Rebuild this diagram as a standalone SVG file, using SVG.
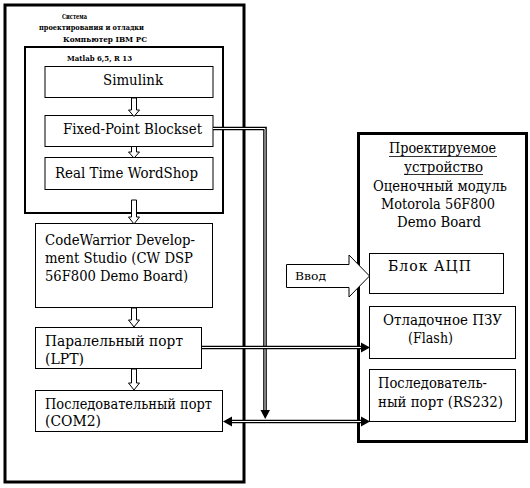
<svg xmlns="http://www.w3.org/2000/svg" width="530" height="488" viewBox="0 0 530 488">
<defs>
<style>
text{font-family:"DejaVu Serif","Liberation Serif",serif;fill:#000}
.t{font-size:14px}
.s{font-size:8px;font-weight:bold}
.b1{fill:#fff;stroke:#000;stroke-width:1}
.ha{fill:#fff;stroke:#000;stroke-width:1}
.dl{fill:none;stroke:#000;stroke-width:3.6}
.dw{fill:none;stroke:#fff;stroke-width:1}
.ah{fill:#000}
</style>
<clipPath id="cLPT"><rect x="35" y="327" width="167" height="42"/></clipPath>
<clipPath id="cCOM"><rect x="35" y="390" width="188" height="42"/></clipPath>
</defs>
<rect width="530" height="488" fill="#fff"/>

<g id="pc">
<rect x="5" y="5" width="239" height="477" fill="none" stroke="#000" stroke-width="3"/>
<text class="s" x="62" y="19" textLength="25" lengthAdjust="spacingAndGlyphs">Система</text>
<text class="s" x="39" y="30" textLength="105" lengthAdjust="spacingAndGlyphs">проектирования и отладки</text>
<text class="s" x="63" y="42" textLength="84" lengthAdjust="spacingAndGlyphs">Компьютер IBM PC</text>
</g>

<g id="matlab">
<rect x="25" y="47" width="198" height="166" fill="none" stroke="#000" stroke-width="2"/>
<text class="s" x="67" y="61" textLength="65" lengthAdjust="spacingAndGlyphs">Matlab 6,5, R 13</text>
</g>

<g id="simulink">
<rect class="b1" x="45" y="66.5" width="168" height="31"/>
<text class="t" x="103" y="85" textLength="60" lengthAdjust="spacingAndGlyphs">Simulink</text>
</g>

<g id="fixedpoint">
<rect class="b1" x="45" y="115.5" width="168" height="31"/>
<text class="t" x="63" y="134" textLength="139" lengthAdjust="spacingAndGlyphs">Fixed-Point Blockset</text>
</g>

<g id="realtime">
<rect class="b1" x="45" y="157.5" width="168" height="32"/>
<text class="t" x="55" y="178" textLength="143" lengthAdjust="spacingAndGlyphs">Real Time WordShop</text>
</g>

<g id="codewarrior">
<rect class="b1" x="35.5" y="223.5" width="177" height="84"/>
<text class="t" x="45" y="245" textLength="150" lengthAdjust="spacingAndGlyphs">CodeWarrior Develop-</text>
<text class="t" x="45" y="263" textLength="148" lengthAdjust="spacingAndGlyphs">ment Studio (CW DSP</text>
<text class="t" x="45" y="281" textLength="143" lengthAdjust="spacingAndGlyphs">56F800 Demo Board)</text>
</g>

<g id="lpt">
<rect class="b1" x="35.5" y="327.5" width="166" height="41"/>
<g clip-path="url(#cLPT)">
<text class="t" x="45" y="346" textLength="138" lengthAdjust="spacingAndGlyphs">Паралельный порт</text>
<text class="t" x="45" y="364" textLength="39" lengthAdjust="spacingAndGlyphs">(LPT)</text>
</g>
</g>

<g id="com2">
<rect class="b1" x="35.5" y="390.5" width="187" height="41"/>
<g clip-path="url(#cCOM)">
<text class="t" x="45" y="409" textLength="167" lengthAdjust="spacingAndGlyphs">Последовательный порт</text>
<text class="t" x="45" y="426" textLength="56" lengthAdjust="spacingAndGlyphs">(COM2)</text>
</g>
</g>

<g id="device">
<rect x="358.5" y="133.5" width="168" height="308" fill="none" stroke="#000" stroke-width="3"/>
<text class="t" x="389" y="153" textLength="107" lengthAdjust="spacingAndGlyphs">Проектируемое</text>
<line x1="389" y1="156.5" x2="497" y2="156.5" stroke="#000" stroke-width="0.8"/>
<text class="t" x="404" y="172" textLength="79" lengthAdjust="spacingAndGlyphs">устройство</text>
<line x1="404" y1="174.5" x2="483" y2="174.5" stroke="#000" stroke-width="0.8"/>
<text class="t" x="373" y="191" textLength="134" lengthAdjust="spacingAndGlyphs">Оценочный модуль</text>
<text class="t" x="381" y="209" textLength="114" lengthAdjust="spacingAndGlyphs">Motorola 56F800</text>
<text class="t" x="397" y="227" textLength="84" lengthAdjust="spacingAndGlyphs">Demo Board</text>
</g>

<g id="adc">
<rect class="b1" x="369.5" y="253.5" width="134" height="40"/>
<text class="t" x="388" y="271" textLength="83" lengthAdjust="spacing">Блок АЦП</text>
</g>

<g id="flash">
<rect class="b1" x="369.5" y="306.5" width="146" height="52"/>
<text class="t" x="383" y="325" textLength="119" lengthAdjust="spacingAndGlyphs">Отладочное ПЗУ</text>
<text class="t" x="408" y="343" textLength="45" lengthAdjust="spacingAndGlyphs">(Flash)</text>
</g>

<g id="rs232">
<rect class="b1" x="369.5" y="369.5" width="146" height="52"/>
<text class="t" x="378" y="388" textLength="109" lengthAdjust="spacingAndGlyphs">Последователь-</text>
<text class="t" x="378" y="407" textLength="125" lengthAdjust="spacingAndGlyphs">ный порт (RS232)</text>
</g>

<g id="input">
<path class="ha" d="M286.5,264.5 H349 V255 L369.5,276 L349,297 V287.5 H286.5 Z"/>
<text x="295" y="280" font-size="11" textLength="31" lengthAdjust="spacingAndGlyphs">Ввод</text>
</g>

<g id="connectors">
<path class="ha" d="M131.5,98 H136.5 V110 H139.5 L134,116.5 L128.5,110 H131.5 Z"/>
<path class="ha" d="M131.5,146.5 H136.5 V152 H139.5 L134,158 L128.5,152 H131.5 Z"/>
<path class="ha" d="M131.5,200 H136.5 V217 H139.5 L134,224 L128.5,217 H131.5 Z"/>
<path class="ha" d="M131.5,308 H136.5 V320 H139.5 L134,327 L128.5,320 H131.5 Z"/>
<path class="ha" d="M131.5,369 H136.5 V383 H139.5 L134,390 L128.5,383 H131.5 Z"/>

<path class="dl" d="M213,128.5 H265 V411"/>
<path class="dw" d="M213,128.5 H265 V411"/>
<polygon class="ah" points="260.5,410 270,410 265.2,419"/>

<path class="dl" d="M202,347.5 H362"/>
<path class="dw" d="M202,347.5 H362"/>
<polygon class="ah" points="361,342.5 370,347.5 361,352.5"/>

<path class="dl" d="M231,421.5 H362"/>
<path class="dw" d="M231,421.5 H362"/>
<polygon class="ah" points="232,416.5 223,421.5 232,426.5"/>
<polygon class="ah" points="361,416.5 370,421.5 361,426.5"/>
</g>
</svg>
